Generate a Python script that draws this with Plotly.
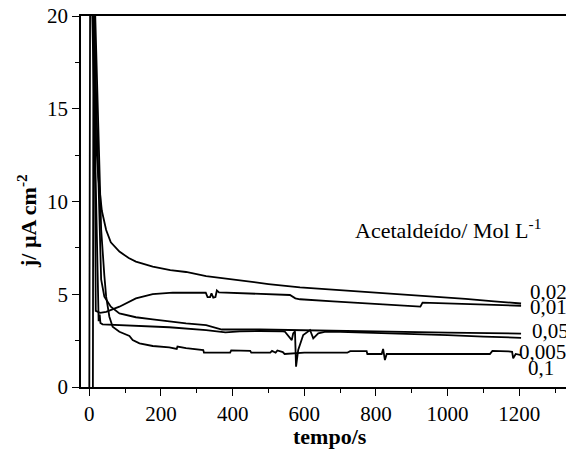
import plotly.graph_objects as go

# ---- data ----
t_002 = [0, 3, 12, 19, 25, 35, 47, 60, 84, 110, 130, 177, 226, 270, 326, 400, 500, 588, 680, 775, 870, 960, 1050, 1130, 1205]
j_002 = [0, 28, 22, 13.2, 11.3, 9.5, 8.46, 7.8, 7.3, 6.95, 6.76, 6.49, 6.3, 6.2, 5.98, 5.78, 5.55, 5.37, 5.25, 5.14, 5.0, 4.87, 4.75, 4.62, 4.5]

t_001 = [10, 12, 18, 30, 47, 84, 130, 177, 233, 290, 325, 330, 337, 341, 346, 352, 356, 362, 420, 500, 560, 575, 588, 680, 784, 870, 924, 930, 1000, 1100, 1205]
j_001 = [0, 26, 4.1, 4.0, 4.05, 4.33, 4.78, 5.01, 5.09, 5.1, 5.08, 4.85, 4.85, 5.05, 4.82, 4.85, 5.2, 5.1, 5.05, 5.0, 4.96, 4.78, 4.73, 4.62, 4.5, 4.4, 4.33, 4.55, 4.5, 4.45, 4.38]

t_005 = [4, 26, 29, 31, 37, 77, 130, 223, 326, 380, 420, 476, 540, 546, 565, 569, 574, 577, 583, 597, 616, 625, 639, 660, 700, 811, 900, 1000, 1100, 1205]
j_005 = [24, 3.55, 3.9, 3.45, 3.38, 3.34, 3.29, 3.22, 3.07, 2.95, 3.0, 3.02, 3.0, 2.98, 2.53, 2.89, 3.0, 1.1, 2.0, 2.8, 3.07, 2.62, 2.89, 2.98, 2.97, 2.92, 2.85, 2.8, 2.72, 2.65]

t_0005 = [6, 28, 33, 42, 60, 84, 130, 177, 270, 326, 370, 476, 600, 811, 1000, 1205]
j_0005 = [25, 8.5, 5.8, 4.87, 4.33, 3.97, 3.76, 3.65, 3.43, 3.34, 3.1, 3.1, 3.05, 2.98, 2.93, 2.88]

t_01 = [8, 33, 42, 47, 56, 65, 84, 112, 121, 140, 177, 223, 244, 246, 270, 318, 320, 393, 396, 449, 452, 505, 510, 520, 525, 540, 545, 575, 600, 720, 728, 774, 776, 816, 820, 825, 830, 1118, 1125, 1170, 1180, 1183, 1190, 1205]
j_01 = [26, 8.5, 6.0, 4.87, 3.79, 3.25, 2.98, 2.75, 2.53, 2.35, 2.21, 2.14, 2.05, 2.18, 2.09, 1.99, 1.85, 1.85, 1.97, 1.95, 1.85, 1.85, 1.95, 1.85, 1.97, 1.88, 1.78, 1.82, 1.85, 1.85, 1.93, 1.93, 1.78, 1.78, 2.05, 1.45, 1.78, 1.78, 1.95, 1.92, 1.9, 1.55, 1.78, 1.72]

series_labels = ["0,02", "0,01", "0,05", "0,005", "0,1"]
label_x = [1224, 1224, 1230, 1195, 1220]
label_y = [5.1, 4.3, 3.0, 1.9, 1.0]

x_ticks = [0, 200, 400, 600, 800, 1000, 1200]
y_ticks = [0, 5, 10, 15, 20]

FONT = "Times New Roman"

# plot-area geometry in pixels (used to position paper annotations)
L, T, W, H = 81, 16, 485, 371

fig = go.Figure()
for tt, jj, name in zip([t_002, t_001, t_005, t_0005, t_01],
                        [j_002, j_001, j_005, j_0005, j_01], series_labels):
    fig.add_trace(go.Scatter(x=tt, y=jj, mode="lines", name=name,
                             line=dict(color="black", width=1.8), showlegend=False))

for lab, xv, yv in zip(series_labels, label_x, label_y):
    fig.add_annotation(x=xv, y=yv, xref="x", yref="y",
                       text=lab, showarrow=False, xanchor="left", yanchor="middle",
                       font=dict(family=FONT, size=21, color="black"))

fig.add_annotation(x=1000, y=8.5, xref="x", yref="y", text="Acetaldeído/ Mol L<sup>-1</sup>",
                   showarrow=False, xanchor="center", yanchor="middle",
                   font=dict(family=FONT, size=22, color="black"))

# y-axis title (rotated), centred at pixel (27, 221)
fig.add_annotation(x=(27 - L) / W, y=(T + H - 221) / H, xref="paper", yref="paper",
                   text="<b>j/ µA cm<sup>-2</sup></b>", textangle=-90, showarrow=False,
                   xanchor="center", yanchor="middle",
                   font=dict(family=FONT, size=22, color="black"))

# x-axis title, centred at pixel (330, 436)
fig.add_annotation(x=(330 - L) / W, y=(T + H - 436) / H, xref="paper", yref="paper",
                   text="<b>tempo/s</b>", showarrow=False,
                   xanchor="center", yanchor="middle",
                   font=dict(family=FONT, size=22, color="black"))

fig.update_layout(
    width=566, height=454,
    margin=dict(l=L, r=566 - L - W, t=T, b=454 - T - H, autoexpand=False),
    paper_bgcolor="white", plot_bgcolor="white",
    font=dict(family=FONT, size=21, color="black"),
    xaxis=dict(range=[-23.2, 1330.4], tickvals=x_ticks, ticks="outside", ticklen=7,
               tickwidth=1.2, tickcolor="black", showline=True, linecolor="black", linewidth=1.5,
               mirror=True, showgrid=False, zeroline=False, automargin=False,
               tickfont=dict(family=FONT, size=21),
               minor=dict(dtick=100, tick0=0, ticks="outside", ticklen=4, tickcolor="black", showgrid=False)),
    yaxis=dict(range=[0, 20], tickvals=y_ticks, ticks="outside", ticklen=7,
               tickwidth=1.2, tickcolor="black", showline=True, linecolor="black", linewidth=1.5,
               showgrid=False, zeroline=False, automargin=False,
               tickfont=dict(family=FONT, size=21),
               minor=dict(dtick=2.5, tick0=0, ticks="outside", ticklen=4, tickcolor="black", showgrid=False)),
)

# remove the browser's default 8px body margin so the figure sits at the window's corner
fig.write_html("out.html", config={"displayModeBar": False},
               post_script="document.body.style.margin='0px';")
